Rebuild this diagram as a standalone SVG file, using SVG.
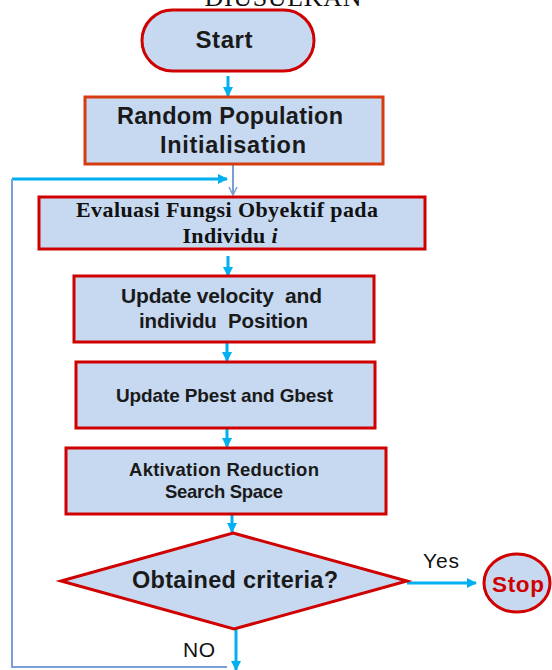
<svg xmlns="http://www.w3.org/2000/svg" width="552" height="670" viewBox="0 0 552 670">
<defs>
<marker id="ah" markerUnits="userSpaceOnUse" markerWidth="10" markerHeight="10" refX="9" refY="5" orient="auto">
<path d="M0,0 L10,5 L0,10 z" fill="#00b0f0"/>
</marker>
<marker id="ahs" markerUnits="userSpaceOnUse" markerWidth="10" markerHeight="10" refX="9" refY="5" orient="auto">
<path d="M1,1 L9,5 L1,9" fill="none" stroke="#7a9fd4" stroke-width="1.5"/>
</marker>
<style>
.box{fill:#c6d9f1;stroke:#d00000;stroke-width:3}
.t{font-family:"Liberation Sans",Arial,sans-serif;font-weight:bold;fill:#1a1a1a;text-anchor:middle;white-space:pre}
.s{font-family:"Liberation Serif","Times New Roman",serif;font-weight:bold;fill:#111;text-anchor:middle}
.r{font-family:"Liberation Sans",Arial,sans-serif;fill:#111}
.c{fill:none;stroke:#00b0f0;stroke-width:3}
.sb{fill:none;stroke:#7a9fd4;stroke-width:2}
</style>
</defs>
<text x="283" y="6" font-family="'Liberation Serif','Times New Roman',serif" font-size="26" text-anchor="middle" textLength="157" fill="#111">DIUSULKAN</text>
<g id="connectors">
<line class="c" x1="228" y1="76" x2="228" y2="96" marker-end="url(#ah)"/>
<line class="sb" x1="233" y1="164" x2="233" y2="195" marker-end="url(#ahs)"/>
<line class="c" x1="12" y1="179" x2="227" y2="179" marker-end="url(#ah)"/>
<polyline class="sb" points="227,667 12,667 12,179"/>
<line class="c" x1="228" y1="256" x2="228" y2="276" marker-end="url(#ah)"/>
<line class="c" x1="227" y1="343" x2="227" y2="361" marker-end="url(#ah)"/>
<line class="c" x1="227" y1="428" x2="227" y2="447" marker-end="url(#ah)"/>
<line class="c" x1="232" y1="514" x2="232" y2="532" marker-end="url(#ah)"/>
<line class="c" x1="407" y1="583" x2="476" y2="583" marker-end="url(#ah)"/>
<line class="c" x1="236" y1="629" x2="236" y2="670" marker-end="url(#ah)"/>
<text class="r" x="423" y="568" font-size="21" textLength="36">Yes</text>
<text class="r" x="183" y="657" font-size="21" textLength="32">NO</text>
</g>
<g id="start">
<rect class="box" x="142" y="10" width="172" height="61" rx="30.5" ry="30.5"/>
<text class="t" x="224" y="48" font-size="24" textLength="57">Start</text>
</g>
<g id="init">
<rect class="box" x="85" y="97" width="298" height="67" style="stroke:#d63c10"/>
<text class="t" x="230" y="124" font-size="23.5" textLength="226">Random Population</text>
<text class="t" x="233" y="153" font-size="23.5" textLength="146">Initialisation</text>
</g>
<g id="evaluasi">
<rect class="box" x="39" y="197" width="386" height="52"/>
<text class="s" x="227" y="217" font-size="22" textLength="302">Evaluasi Fungsi Obyektif pada</text>
<text class="s" x="230" y="243" font-size="22" textLength="95">Individu <tspan font-style="italic">i</tspan></text>
</g>
<g id="update-velocity">
<rect class="box" x="74" y="276" width="300" height="66"/>
<text class="t" x="221.5" y="303" font-size="21" textLength="201">Update velocity  and</text>
<text class="t" x="223.5" y="328" font-size="20.5" textLength="169">individu  Position</text>
</g>
<g id="update-best">
<rect class="box" x="76" y="362" width="299" height="66"/>
<text class="t" x="224.5" y="402" font-size="19" textLength="217">Update Pbest and Gbest</text>
</g>
<g id="aktivation">
<rect class="box" x="66" y="448" width="320" height="66"/>
<text class="t" x="224" y="476" font-size="18.5" textLength="190">Aktivation Reduction</text>
<text class="t" x="224" y="498" font-size="18.5" textLength="118">Search Space</text>
</g>
<g id="criteria">
<polygon class="box" points="233,533 407,581 234,629 61,581"/>
<text class="t" x="235" y="588" font-size="23.5" textLength="206">Obtained criteria?</text>
</g>
<g id="stop">
<ellipse class="box" cx="517" cy="583" rx="33" ry="29"/>
<text class="t" x="518" y="592" font-size="22.5" textLength="52" style="fill:#d00000">Stop</text>
</g>
</svg>
